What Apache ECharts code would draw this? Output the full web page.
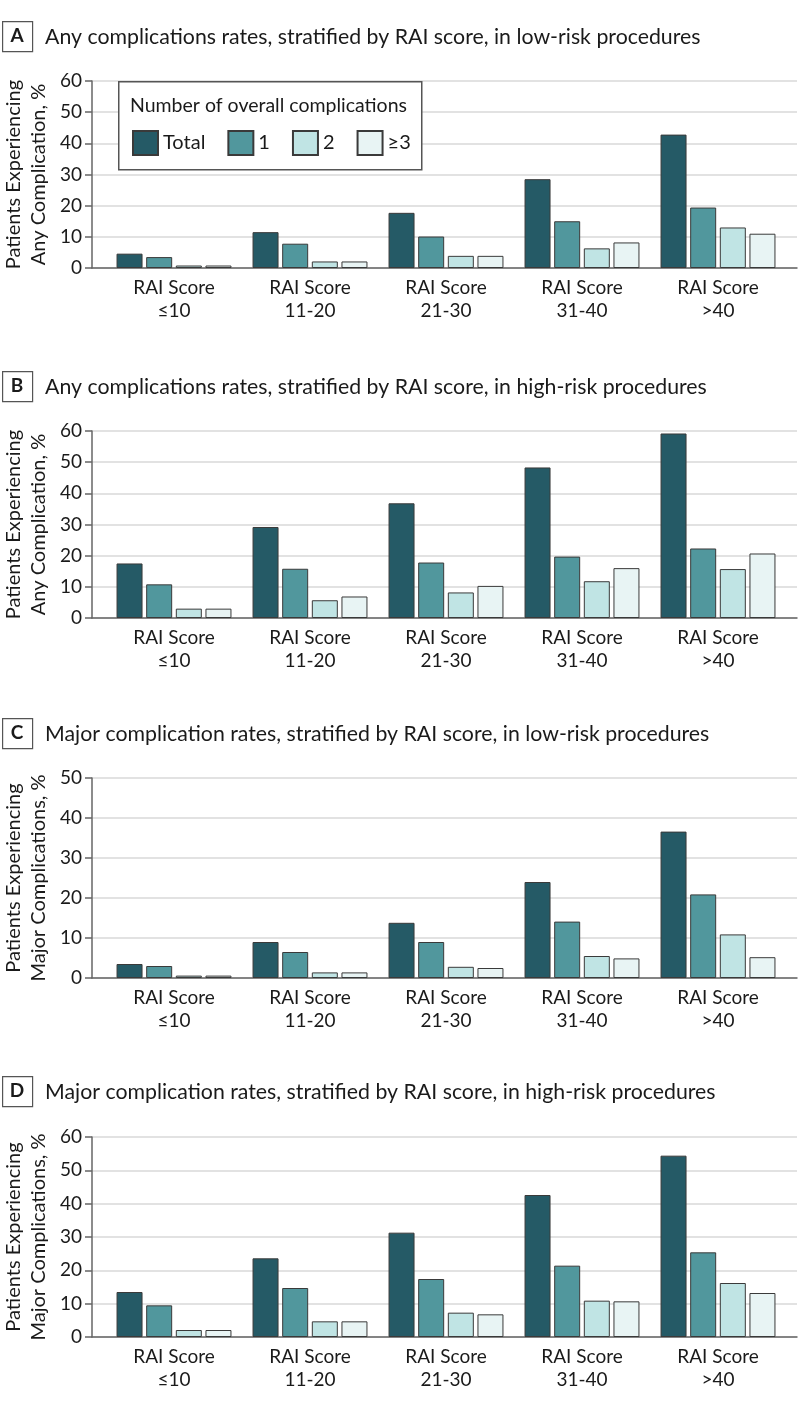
<!DOCTYPE html>
<html>
<head>
<meta charset="utf-8">
<script src="https://cdn.jsdelivr.net/npm/echarts@6/dist/echarts.min.js"></script>
<style>
html,body{margin:0;padding:0;background:#fff;}
#chart{width:798px;height:1407px;}
</style>
</head>
<body>
<div id="chart"></div>
<script>
// ---- data ----
const categories = ['RAI Score\n≤10', 'RAI Score\n11-20', 'RAI Score\n21-30', 'RAI Score\n31-40', 'RAI Score\n>40'];
const seriesNames = ['Total', '1', '2', '≥3'];

const aTotal = [4.6, 11.5, 17.7, 28.5, 42.8];
const aOne   = [3.5, 7.8, 10.1, 15.0, 19.4];
const aTwo   = [0.8, 2.1, 3.9, 6.3, 13.0];
const aThree = [0.8, 2.1, 3.9, 8.2, 11.0];

const bTotal = [17.5, 29.2, 36.8, 48.3, 59.2];
const bOne   = [10.8, 15.8, 17.8, 19.7, 22.3];
const bTwo   = [3.0, 5.7, 8.2, 11.8, 15.7];
const bThree = [3.0, 6.9, 10.3, 16.0, 20.7];

const cTotal = [3.5, 9.0, 13.8, 24.0, 36.6];
const cOne   = [3.0, 6.5, 9.0, 14.1, 20.9];
const cTwo   = [0.6, 1.4, 2.8, 5.5, 10.9];
const cThree = [0.6, 1.4, 2.5, 4.9, 5.2];

const dTotal = [13.5, 23.6, 31.3, 42.6, 54.4];
const dOne   = [9.5, 14.7, 17.4, 21.4, 25.4];
const dTwo   = [2.1, 4.7, 7.3, 10.9, 16.2];
const dThree = [2.1, 4.7, 6.8, 10.7, 13.2];

const yMaxes = [60, 60, 50, 60];
const yInterval = 10;
const panelLetters = ['A', 'B', 'C', 'D'];
const panelTitles = [
  'Any complications rates, stratified by RAI score, in low-risk procedures',
  'Any complications rates, stratified by RAI score, in high-risk procedures',
  'Major complication rates, stratified by RAI score, in low-risk procedures',
  'Major complication rates, stratified by RAI score, in high-risk procedures'
];
const yNameLine1 = ['Patients Experiencing', 'Patients Experiencing', 'Patients Experiencing', 'Patients Experiencing'];
const yNameLine2 = ['Any Complication, %', 'Any Complication, %', 'Major Complications, %', 'Major Complications, %'];
const legendTitle = 'Number of overall complications';

const panelData = [
  [aTotal, aOne, aTwo, aThree],
  [bTotal, bOne, bTwo, bThree],
  [cTotal, cOne, cTwo, cThree],
  [dTotal, dOne, dTwo, dThree]
];

// ---- layout / style ----
const FONT = 'Lato';
const TXT = '#1a1a1a';
const colors = ['#255a66', '#51979d', '#c0e4e4', '#e8f4f4'];
const layout = [
  {top: 81, height: 187, boxY: 21},
  {top: 431, height: 187, boxY: 371},
  {top: 778, height: 200, boxY: 718},
  {top: 1137, height: 200, boxY: 1076}
];

const grid = [], xAxis = [], yAxis = [], series = [], graphic = [];
layout.forEach((L, p) => {
  const gA = grid.length;
  grid.push({left: 92, width: 705, top: L.top, height: L.height});
  const gB = grid.length;
  grid.push({left: 106, width: 680, top: L.top, height: L.height});

  // axes grid (value x, drawn only as baseline)
  xAxis.push({gridIndex: gA, type: 'value', min: 0, max: 1,
    axisLine: {show: true, onZero: false, lineStyle: {color: '#666', width: 1.5}},
    axisTick: {show: false}, axisLabel: {show: false}, splitLine: {show: false}});
  yAxis.push({gridIndex: gA, type: 'value', min: 0, max: yMaxes[p], interval: yInterval,
    axisLine: {show: true, lineStyle: {color: '#666', width: 1.5}},
    axisTick: {show: true, length: 7, lineStyle: {color: '#666', width: 1.5}},
    axisLabel: {fontFamily: FONT, fontSize: 19, color: TXT, margin: 10},
    splitLine: {show: true, lineStyle: {color: '#d9d9d9', width: 1.5}}});

  // bars grid
  const xi = xAxis.length;
  xAxis.push({gridIndex: gB, type: 'category', data: categories,
    axisLine: {show: false}, axisTick: {show: false},
    axisLabel: {fontFamily: FONT, fontSize: 19, color: TXT, margin: 8, lineHeight: 23, interval: 0}});
  const yi = yAxis.length;
  yAxis.push({gridIndex: gB, type: 'value', min: 0, max: yMaxes[p], interval: yInterval, show: false,
    splitLine: {show: false}});

  panelData[p].forEach((arr, s) => {
    series.push({type: 'bar', name: seriesNames[s], xAxisIndex: xi, yAxisIndex: yi,
      data: arr, barWidth: 26, barGap: '14%',
      itemStyle: {color: colors[s], borderColor: '#3a3a3a', borderWidth: 1},
      emphasis: {disabled: true}});
  });

  // y axis name (two rotated lines)
  const cy = L.top + L.height / 2;
  graphic.push({type: 'text', x: 13.5, y: cy, rotation: Math.PI / 2, z: 6,
    style: {text: yNameLine1[p], font: '20px ' + FONT, fill: TXT, textAlign: 'center', textVerticalAlign: 'middle'}});
  graphic.push({type: 'text', x: 38.5, y: cy, rotation: Math.PI / 2, z: 6,
    style: {text: yNameLine2[p], font: '20px ' + FONT, fill: TXT, textAlign: 'center', textVerticalAlign: 'middle'}});

  // panel letter box + title
  graphic.push({type: 'rect', left: 2, top: L.boxY, shape: {width: 30, height: 30},
    style: {fill: '#fff', stroke: '#555', lineWidth: 1.2}, z: 5});
  graphic.push({type: 'text', x: 17, y: L.boxY + 15, z: 6,
    style: {text: panelLetters[p], font: 'bold 19px ' + FONT, fill: TXT, textAlign: 'center', textVerticalAlign: 'middle'}});
  graphic.push({type: 'text', x: 45, y: L.boxY + 16, z: 6,
    style: {text: panelTitles[p], font: '21.3px ' + FONT, fill: TXT, textAlign: 'left', textVerticalAlign: 'middle'}});
});

// legend box in panel A
graphic.push({type: 'rect', left: 118, top: 81, shape: {width: 303, height: 88},
  style: {fill: '#fff', stroke: '#555', lineWidth: 1.5}, z: 3});
graphic.push({type: 'text', x: 130, y: 106, z: 6,
  style: {text: legendTitle, font: '19.5px ' + FONT, fill: TXT, textAlign: 'left', textVerticalAlign: 'middle'}});

const chart = echarts.init(document.getElementById('chart'), null, {renderer: 'canvas'});
chart.setOption({
  animation: false,
  textStyle: {fontFamily: FONT},
  grid, xAxis, yAxis, series, graphic,
  legend: {data: seriesNames, left: 127, top: 125, itemWidth: 25, itemHeight: 24, itemGap: 22,
    icon: 'rect', selectedMode: false, z: 6,
    textStyle: {fontFamily: FONT, fontSize: 20, color: TXT}}
});
</script>
</body>
</html>
